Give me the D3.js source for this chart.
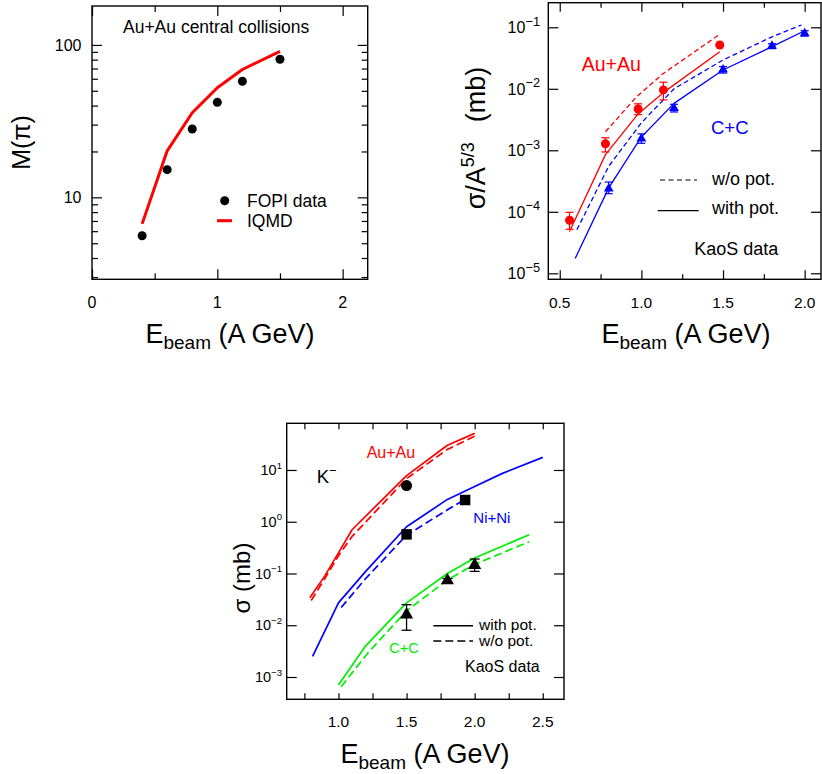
<!DOCTYPE html>
<html><head><meta charset="utf-8">
<script src="https://cdn.jsdelivr.net/npm/d3@7"></script>
<style>
body{margin:0;background:#fff}
svg{display:block}
text{font-family:"Liberation Sans",Arial,Helvetica,sans-serif;fill:#000}
</style>
</head><body>
<svg id="c" width="822" height="774"></svg>
<script>
// ===== Panel A: pion multiplicity, Au+Au central =====
const pionE = [0.4, 0.6, 0.8, 1.0, 1.2, 1.5];
const pionFOPI = [5.6, 15.2, 28.1, 42, 57.8, 80.5];
const pionIQMD = [6.7, 20.2, 35.9, 52.4, 69, 90.8];
const pionXMajor = [0, 1, 2];
const pionXMinor = [0.5, 1.5];
const pionXLabels = ["0", "1", "2"];
const pionYMajor = [10, 100];
const pionYMinor = [3, 4, 5, 6, 7, 8, 9, 20, 30, 40, 50, 60, 70, 80, 90];
const pionYLabels = ["10", "100"];

// ===== Panel B: K+ sigma/A^(5/3) =====
const kpAuE = [0.56, 0.78, 0.98, 1.135, 1.48];
const kpAuVal = [7.3e-5, 1.28e-3, 4.7e-3, 9.6e-3, 0.0515];
const kpAuLo = [5.2e-5, 9.4e-4, 3.8e-3, 6.6e-3, 0.0515];
const kpAuHi = [9.8e-5, 1.6e-3, 5.7e-3, 1.28e-2, 0.0515];
const kpCE = [0.8, 1.0, 1.2, 1.5, 1.8, 2.0];
const kpCVal = [2.38e-4, 1.55e-3, 4.85e-3, 0.0204, 0.0497, 0.0798];
const kpCLo = [1.97e-4, 1.3e-3, 4.2e-3, 0.018, 0.045, 0.072];
const kpCHi = [3.05e-4, 1.85e-3, 5.6e-3, 0.023, 0.054, 0.088];
const kpAuWithE = [0.56, 0.78, 0.98, 1.13, 1.48];
const kpAuWith = [4.8e-5, 8.5e-4, 3.9e-3, 8.5e-3, 0.040];
const kpAuWoE = [0.78, 0.97, 1.13, 1.48];
const kpAuWo = [2.0e-3, 7.4e-3, 0.0174, 0.077];
const kpCWithE = [0.595, 0.8, 1.0, 1.2, 1.5, 1.8, 2.0];
const kpCWith = [1.75e-5, 2.45e-4, 1.65e-3, 5.8e-3, 0.0202, 0.0484, 0.088];
const kpCWoE = [0.605, 0.8, 1.0, 1.2, 1.5, 1.8, 1.98];
const kpCWo = [5.1e-5, 5.5e-4, 2.8e-3, 1.0e-2, 0.0294, 0.070, 0.109];
const kpXMajor = [0.5, 1.0, 1.5, 2.0];
const kpXMinor = [0.75, 1.25, 1.75];
const kpXLabels = ["0.5", "1.0", "1.5", "2.0"];
const kpYMajor = [1e-5, 1e-4, 1e-3, 1e-2, 1e-1];
const kpYExp = ["\u22125", "\u22124", "\u22123", "\u22122", "\u22121"];

// ===== Panel C: K- sigma =====
const kmAuDataE = [1.5];
const kmAuData = [5.0];
const kmNiDataE = [1.5, 1.93];
const kmNiData = [0.57, 2.63];
const kmCDataE = [1.5, 1.8, 2.0];
const kmCData = [0.016, 0.073, 0.145];
const kmCLo = [0.008, 0.066, 0.11];
const kmCHi = [0.025, 0.080, 0.19];
const kmAuWithE = [0.79, 0.9, 1.0, 1.1, 1.5, 1.8, 2.0];
const kmAuWith = [0.034, 0.09, 0.25, 0.70, 7.8, 30, 51];
const kmAuWoE = [0.8, 0.9, 1.0, 1.1, 1.5, 1.8, 2.0];
const kmAuWo = [0.030, 0.08, 0.22, 0.52, 6.8, 25, 45];
const kmNiWithE = [0.81, 1.0, 1.2, 1.5, 1.8, 2.0, 2.2, 2.5];
const kmNiWith = [0.0025, 0.027, 0.11, 0.80, 2.7, 4.8, 8.5, 17.5];
const kmNiWoE = [1.02, 1.2, 1.5, 1.8, 1.93];
const kmNiWo = [0.022, 0.08, 0.55, 1.7, 2.7];
const kmCWithE = [1.0, 1.2, 1.5, 1.8, 2.0, 2.4];
const kmCWith = [7e-4, 0.004, 0.027, 0.10, 0.20, 0.56];
const kmCWoE = [1.02, 1.22, 1.5, 1.8, 2.0, 2.4];
const kmCWo = [6.5e-4, 0.003, 0.019, 0.075, 0.15, 0.41];
const kmXTicks = [0.75, 1.0, 1.25, 1.5, 1.75, 2.0, 2.25, 2.5];
const kmXMajor = [1.0, 1.5, 2.0, 2.5];
const kmXLabels = ["1.0", "1.5", "2.0", "2.5"];
const kmYMajor = [1e-3, 1e-2, 1e-1, 1, 10];
const kmYExp = ["\u22123", "\u22122", "\u22121", "0", "1"];

const RED = "#ff0000", BLUE = "#0000ff", GREEN = "#00ee00";
const svg = d3.select("#c");

function tickSet(g, x, y, xs, ys, xLen, yLen) {
  const [x0, x1] = x.range(), [y0, y1] = y.range();
  const add = (axis, tr) => {
    const a = g.append("g").attr("transform", tr).call(axis);
    a.select(".domain").remove();
    a.selectAll("line").attr("stroke", "#000").attr("stroke-width", 1.2);
  };
  if (xs) {
    add(d3.axisBottom(x).tickValues(xs).tickSize(-xLen).tickSizeOuter(0).tickFormat(""), `translate(0,${y0})`);
    add(d3.axisTop(x).tickValues(xs).tickSize(-xLen).tickSizeOuter(0).tickFormat(""), `translate(0,${y1})`);
  }
  if (ys) {
    add(d3.axisLeft(y).tickValues(ys).tickSize(-yLen).tickSizeOuter(0).tickFormat(""), `translate(${x0},0)`);
    add(d3.axisRight(y).tickValues(ys).tickSize(-yLen).tickSizeOuter(0).tickFormat(""), `translate(${x1},0)`);
  }
}
function frame(g, x, y) {
  const [x0, x1] = x.range(), [y0, y1] = y.range();
  g.append("rect").attr("x", x0).attr("y", y1).attr("width", x1 - x0).attr("height", y0 - y1)
    .attr("fill", "none").attr("stroke", "#000").attr("stroke-width", 1.4);
}
function xLabel(g, cx, base) {
  const t = g.append("text").attr("x", cx).attr("y", base).attr("text-anchor", "middle").attr("font-size", 27);
  t.append("tspan").text("E");
  t.append("tspan").attr("font-size", 19).attr("dy", 6).text("beam");
  t.append("tspan").attr("dy", -6).text("\u00a0(A GeV)");
}
function powLabel(g, xr, yc, exp, size, supRatio) {
  const t = g.append("text").attr("x", xr).attr("y", yc + size * 0.36).attr("text-anchor", "end").attr("font-size", size);
  t.append("tspan").text("10");
  t.append("tspan").attr("font-size", size * supRatio).attr("dy", -size * 0.45).text(exp);
}
function path(g, x, y, E, V, color, width, dash) {
  const line = d3.line().x(d => x(d[0])).y(d => y(d[1]));
  const p = g.append("path").attr("d", line(d3.zip(E, V))).attr("fill", "none")
    .attr("stroke", color).attr("stroke-width", width).attr("stroke-linejoin", "round");
  if (dash) p.attr("stroke-dasharray", dash);
}
function errBars(g, x, y, E, lo, hi, color, cap, w) {
  E.forEach((e, i) => {
    const px = x(e);
    g.append("line").attr("x1", px).attr("x2", px).attr("y1", y(lo[i])).attr("y2", y(hi[i])).attr("stroke", color).attr("stroke-width", w);
    [lo[i], hi[i]].forEach(v => g.append("line").attr("x1", px - cap / 2).attr("x2", px + cap / 2)
      .attr("y1", y(v)).attr("y2", y(v)).attr("stroke", color).attr("stroke-width", w));
  });
}
const tri = d3.symbol().type(d3.symbolTriangle);
const sq = d3.symbol().type(d3.symbolSquare);

// ---------------- Panel A ----------------
{
  const g = svg.append("g");
  const x = d3.scaleLinear().domain([0, 2.2]).range([92, 367.7]);
  const y = d3.scaleLog().domain([2.9, 180]).range([279.3, 6]);
  frame(g, x, y);
  tickSet(g, x, y, pionXMajor, pionYMajor, 10, 10);
  tickSet(g, x, y, pionXMinor, pionYMinor, 6, 6);
  pionXMajor.forEach((v, i) => g.append("text").attr("x", x(v)).attr("y", 308).attr("text-anchor", "middle").attr("font-size", 16).text(pionXLabels[i]));
  pionYMajor.forEach((v, i) => g.append("text").attr("x", 81.5).attr("y", y(v) + 5.8).attr("text-anchor", "end").attr("font-size", 16).text(pionYLabels[i]));
  path(g, x, y, pionE, pionIQMD, RED, 3);
  pionE.forEach((e, i) => g.append("circle").attr("cx", x(e)).attr("cy", y(pionFOPI[i])).attr("r", 4.5).attr("fill", "#000"));
  g.append("text").attr("x", 123).attr("y", 33).attr("font-size", 17.5).text("Au+Au central collisions");
  g.append("circle").attr("cx", 224.7).attr("cy", 200.7).attr("r", 4.5).attr("fill", "#000");
  g.append("text").attr("x", 247).attr("y", 206.5).attr("font-size", 17.5).text("FOPI data");
  g.append("line").attr("x1", 217).attr("x2", 232).attr("y1", 220.7).attr("y2", 220.7).attr("stroke", RED).attr("stroke-width", 3);
  g.append("text").attr("x", 247).attr("y", 226.5).attr("font-size", 17.5).text("IQMD");
  xLabel(g, 230, 343);
  g.append("text").attr("transform", "translate(30,142.5) rotate(-90)").attr("text-anchor", "middle").attr("font-size", 25).text("M(\u03c0)");
}

// ---------------- Panel B ----------------
{
  const g = svg.append("g");
  const x = d3.scaleLinear().domain([0.43, 2.1]).range([548.3, 821]);
  const y = d3.scaleLog().domain([Math.pow(10, -5.0976), Math.pow(10, -0.6)]).range([279.3, 2.7]);
  frame(g, x, y);
  tickSet(g, x, y, kpXMajor, kpYMajor, 9, 10);
  tickSet(g, x, y, kpXMinor, null, 5, 0);
  kpXMajor.forEach((v, i) => g.append("text").attr("x", x(v)).attr("y", 308).attr("text-anchor", "middle").attr("font-size", 15.5).text(kpXLabels[i]));
  kpYMajor.forEach((v, i) => powLabel(g, 540, y(v), kpYExp[i], 16, 0.8));
  path(g, x, y, kpAuWoE, kpAuWo, RED, 1.3, "5,3");
  path(g, x, y, kpAuWithE, kpAuWith, RED, 1.3);
  path(g, x, y, kpCWoE, kpCWo, BLUE, 1.3, "5,3");
  path(g, x, y, kpCWithE, kpCWith, BLUE, 1.3);
  errBars(g, x, y, kpAuE, kpAuLo, kpAuHi, RED, 8, 1.2);
  errBars(g, x, y, kpCE, kpCLo, kpCHi, BLUE, 8, 1.2);
  kpAuE.forEach((e, i) => g.append("circle").attr("cx", x(e)).attr("cy", y(kpAuVal[i])).attr("r", 4.5).attr("fill", RED));
  kpCE.forEach((e, i) => g.append("path").attr("d", tri.size(42)()).attr("transform", `translate(${x(e)},${y(kpCVal[i])})`).attr("fill", BLUE));
  g.append("text").attr("x", 581.7).attr("y", 70.5).attr("font-size", 19.5).style("fill", RED).text("Au+Au");
  g.append("text").attr("x", 711).attr("y", 133.5).attr("font-size", 18.5).style("fill", BLUE).text("C+C");
  g.append("line").attr("x1", 660).attr("x2", 697).attr("y1", 180).attr("y2", 180).attr("stroke", "#000").attr("stroke-width", 1.2).attr("stroke-dasharray", "5,3.5");
  g.append("line").attr("x1", 657.7).attr("x2", 698.7).attr("y1", 210.7).attr("y2", 210.7).attr("stroke", "#000").attr("stroke-width", 1.2);
  g.append("text").attr("x", 712).attr("y", 184.5).attr("font-size", 18).text("w/o pot.");
  g.append("text").attr("x", 712).attr("y", 214).attr("font-size", 18).text("with pot.");
  g.append("text").attr("x", 694.3).attr("y", 255).attr("font-size", 18).text("KaoS data");
  xLabel(g, 686, 343);
  const t = g.append("text").attr("transform", "translate(485,138) rotate(-90)").attr("text-anchor", "middle").attr("font-size", 27);
  t.append("tspan").text("\u03c3/A");
  t.append("tspan").attr("font-size", 18).attr("dy", -11).text("5/3");
  t.append("tspan").attr("dy", 11).attr("dx", 20).text("(mb)");
}

// ---------------- Panel C ----------------
{
  const g = svg.append("g");
  const x = d3.scaleLinear().domain([0.62, 2.656]).range([286.7, 564]);
  const y = d3.scaleLog().domain([Math.pow(10, -3.431), Math.pow(10, 1.902)]).range([699.3, 423.3]);
  frame(g, x, y);
  tickSet(g, x, y, kmXTicks, kmYMajor, 6, 10);
  kmXMajor.forEach((v, i) => g.append("text").attr("x", x(v)).attr("y", 726.5).attr("text-anchor", "middle").attr("font-size", 15.5).text(kmXLabels[i]));
  kmYMajor.forEach((v, i) => powLabel(g, 282, y(v), kmYExp[i], 14.5, 0.66));
  path(g, x, y, kmAuWoE, kmAuWo, RED, 1.7, "8,4");
  path(g, x, y, kmAuWithE, kmAuWith, RED, 1.7);
  path(g, x, y, kmNiWoE, kmNiWo, BLUE, 1.7, "8,4");
  path(g, x, y, kmNiWithE, kmNiWith, BLUE, 1.7);
  path(g, x, y, kmCWoE, kmCWo, GREEN, 1.7, "8,4");
  path(g, x, y, kmCWithE, kmCWith, GREEN, 1.7);
  errBars(g, x, y, kmCDataE, kmCLo, kmCHi, "#000", 10, 1.3);
  kmAuDataE.forEach((e, i) => g.append("circle").attr("cx", x(e)).attr("cy", y(kmAuData[i])).attr("r", 5.5).attr("fill", "#000"));
  kmNiDataE.forEach((e, i) => g.append("path").attr("d", sq.size(110)()).attr("transform", `translate(${x(e)},${y(kmNiData[i])})`).attr("fill", "#000"));
  kmCDataE.forEach((e, i) => g.append("path").attr("d", tri.size(75)()).attr("transform", `translate(${x(e)},${y(kmCData[i])})`).attr("fill", "#000"));
  g.append("text").attr("x", 366.7).attr("y", 458).attr("font-size", 16).style("fill", RED).text("Au+Au");
  g.append("text").attr("x", 473.3).attr("y", 522.7).attr("font-size", 15).style("fill", BLUE).text("Ni+Ni");
  g.append("text").attr("x", 389.3).attr("y", 653.3).attr("font-size", 14.5).style("fill", GREEN).text("C+C");
  const k = g.append("text").attr("x", 316.7).attr("y", 483.3).attr("font-size", 18.5);
  k.append("tspan").text("K");
  k.append("tspan").attr("font-size", 13).attr("dy", -8).text("\u2212");
  g.append("line").attr("x1", 433.3).attr("x2", 473).attr("y1", 625.7).attr("y2", 625.7).attr("stroke", "#000").attr("stroke-width", 1.6);
  g.append("line").attr("x1", 433.3).attr("x2", 473).attr("y1", 641).attr("y2", 641).attr("stroke", "#000").attr("stroke-width", 1.6).attr("stroke-dasharray", "8,4");
  g.append("text").attr("x", 479).attr("y", 630).attr("font-size", 15.5).text("with pot.");
  g.append("text").attr("x", 479).attr("y", 646).attr("font-size", 15.5).text("w/o pot.");
  g.append("text").attr("x", 465).attr("y", 671.5).attr("font-size", 16).text("KaoS data");
  xLabel(g, 425, 763);
  g.append("text").attr("transform", "translate(250,578) rotate(-90)").attr("text-anchor", "middle").attr("font-size", 24).text("\u03c3 (mb)");
}
</script>
</body></html>
